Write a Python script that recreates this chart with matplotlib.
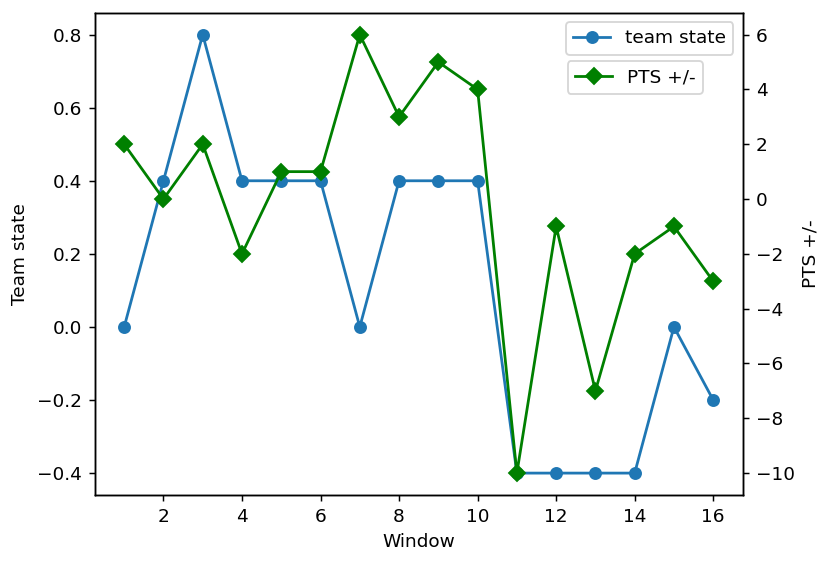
import numpy as np
import matplotlib.pyplot as plt

windows = list(range(1, 17))
team_state = [0.0, 0.4, 0.8, 0.4, 0.4, 0.4, 0.0, 0.4, 0.4, 0.4, -0.4, -0.4, -0.4, -0.4, 0.0, -0.2]
pts_diff = [2, 0, 2, -2, 1, 1, 6, 3, 5, 4, -10, -1, -7, -2, -1, -3]

DPI = 133
fig, ax = plt.subplots(figsize=(831 / DPI, 564 / DPI), dpi=DPI)
fig.subplots_adjust(left=0.114, right=0.8937, top=0.9775, bottom=0.1223)

ax.plot(windows, team_state, "o-", color="tab:blue", label="team state")
ax.set_xlabel("Window")
ax.set_ylabel("Team state")
ax.legend(loc="upper right")

ax2 = ax.twinx()
ax2.plot(windows, pts_diff, "D-", color="green", label="PTS +/-")
ax2.set_ylabel("PTS +/-")
ax2.legend(loc="upper left", bbox_to_anchor=(0.73, 0.9), borderaxespad=0)

fig.savefig("out.png", dpi=DPI)
